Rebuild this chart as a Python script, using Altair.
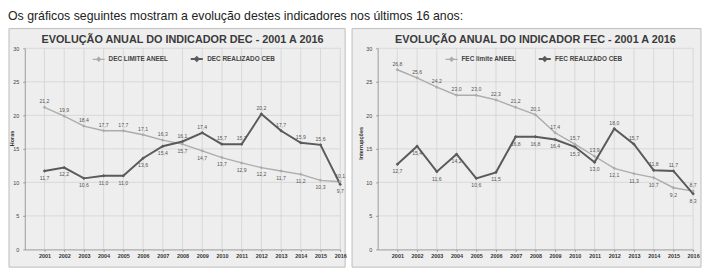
import altair as alt
import pandas as pd

FONT = "Liberation Sans"
sentence = "Os gráficos seguintes mostram a evolução destes indicadores nos últimos 16 anos:"

years = list(range(2001, 2017))
y_ticks = [0, 5, 10, 15, 20, 25, 30]

dec_limite = [21.2, 19.9, 18.4, 17.7, 17.7, 17.1, 16.3, 15.7, 14.7, 13.7, 12.9, 12.2, 11.7, 11.2, 10.3, 10.1]
dec_realizado = [11.7, 12.2, 10.6, 11.0, 11.0, 13.6, 15.4, 16.1, 17.4, 15.7, 15.7, 20.2, 17.7, 15.9, 15.6, 9.7]
fec_limite = [26.8, 25.6, 24.2, 23.0, 23.0, 22.3, 21.2, 20.1, 17.4, 15.7, 13.9, 12.1, 11.3, 10.7, 9.2, 8.7]
fec_realizado = [12.7, 15.4, 11.6, 14.2, 10.6, 11.5, 16.8, 16.8, 16.4, 15.3, 13.0, 18.0, 15.7, 11.8, 11.7, 8.3]

PANEL = "#eeeeee"
GRID = "#d2d2d2"
LIGHT = "#acacac"
DARK = "#5a5a5a"


def panel(lim, real, lim_name, real_name, title, ytitle, left_ext, right_ext, ytitle_x, ytitle_y):
    df = pd.DataFrame({
        "ano": years * 2,
        "valor": lim + real,
        "serie": [lim_name] * 16 + [real_name] * 16,
    })
    other = real + lim
    df["pos"] = ["acima" if v > o else "abaixo" for v, o in zip(df["valor"], other)]
    df["rotulo"] = [f"{v:.1f}".replace(".", ",") for v in df["valor"]]

    x_enc = alt.X("ano:Q",
                  scale=alt.Scale(domain=[2000, 2016], nice=False, zero=False),
                  axis=alt.Axis(values=years, format="d", title=None, grid=False,
                                labelFontSize=5.5, labelFontWeight="bold", labelColor="#333",
                                labelFont=FONT, tickSize=2, tickColor="#999",
                                domainColor="#9a9a9a", labelPadding=2, zindex=1,
                                labelFlush=False))
    y_enc = alt.Y("valor:Q",
                  scale=alt.Scale(domain=[0, 30], nice=False),
                  axis=alt.Axis(values=y_ticks, title=ytitle, grid=False,
                                labelFontSize=5.5, labelColor="#444", labelFont=FONT,
                                tickSize=2, tickColor="#999", domainColor="#9a9a9a",
                                labelPadding=4, zindex=1,
                                titleFontSize=5.5, titleFontWeight="bold", titleColor="#333",
                                titleFont=FONT, titleAngle=270, titleX=ytitle_x,
                                titleY=ytitle_y, titleAlign="center", titleBaseline="middle"))
    color = alt.Color("serie:N",
                      scale=alt.Scale(domain=[lim_name, real_name], range=[LIGHT, DARK]),
                      legend=alt.Legend(orient="none", legendX=68, legendY=3,
                                        direction="horizontal", title=None,
                                        labelFontSize=6.5, labelFontWeight="bold",
                                        labelColor="#444", labelFont=FONT,
                                        symbolType="M-1,0L1,0M0,-0.3L0.3,0L0,0.3L-0.3,0Z",
                                        symbolSize=150, symbolStrokeWidth=1.6,
                                        columnPadding=18, labelOffset=3))

    bg = alt.Chart(pd.DataFrame({"a": [0]})).mark_rect(
        fill=PANEL, stroke="#bdbdbd", strokeWidth=1
    ).encode(x=alt.value(-left_ext), x2=alt.value(320 + right_ext),
             y=alt.value(-20), y2=alt.value(222))

    vgrid = alt.Chart(pd.DataFrame({"ano": years})).mark_rule(
        color=GRID, strokeWidth=0.8).encode(x=x_enc)
    hgrid = alt.Chart(pd.DataFrame({"valor": y_ticks[1:]})).mark_rule(
        color=GRID, strokeWidth=0.8).encode(y=y_enc)

    ttl = alt.Chart(pd.DataFrame({"t": [title]})).mark_text(
        font=FONT, fontSize=11, fontWeight="bold", color="#3a3a3a"
    ).encode(x=alt.value(160), y=alt.value(-8), text="t:N")

    base = alt.Chart(df)
    lines = base.mark_line().encode(
        x=x_enc, y=y_enc, color=color,
        strokeWidth=alt.StrokeWidth("serie:N",
                                    scale=alt.Scale(domain=[lim_name, real_name], range=[1.4, 2.0]),
                                    legend=None),
    )
    pts = base.mark_point(shape="diamond", filled=True, size=12, opacity=1).encode(
        x=x_enc, y=y_enc, color=color)
    lab_up = base.transform_filter(alt.datum.pos == "acima").mark_text(
        font=FONT, fontSize=5.2, color="#555", dy=-6).encode(x=x_enc, y=y_enc, text="rotulo:N")
    lab_dn = base.transform_filter(alt.datum.pos == "abaixo").mark_text(
        font=FONT, fontSize=5.2, color="#555", dy=7).encode(x=x_enc, y=y_enc, text="rotulo:N")

    return alt.layer(bg, vgrid, hgrid, ttl, lines, pts, lab_up, lab_dn).properties(
        width=320, height=204)


left = panel(dec_limite, dec_realizado, "DEC LIMITE ANEEL", "DEC REALIZADO CEB",
             "EVOLUÇÃO ANUAL DO INDICADOR DEC - 2001 A 2016", "Horas", 16, 5, -13, 91)
right = panel(fec_limite, fec_realizado, "FEC limite ANEEL", "FEC REALIZADO CEB",
              "EVOLUÇÃO ANUAL DO INDICADOR FEC - 2001 A 2016", "Interrupções", 26, 8, -17, 96)

chart = alt.hconcat(left, right, spacing=4).resolve_scale(color="independent", strokeWidth="independent").properties(
    padding=0,
    title=alt.TitleParams(sentence, anchor="start", fontSize=12.5, font=FONT,
                          fontWeight="normal", color="#222", offset=5),
).configure_view(stroke=None).configure(background="white")

chart.save("out.html", embed_options={"renderer": "svg", "actions": False})
